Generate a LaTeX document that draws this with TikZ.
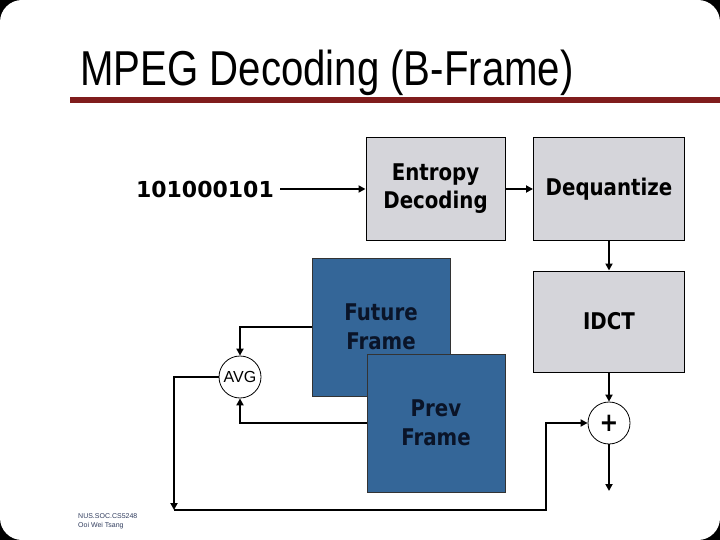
\documentclass[tikz,border=0pt]{standalone}
\usepackage{fontspec}
\setmainfont{Liberation Sans}
\newfontfamily\labfont[FakeStretch=0.86]{DejaVu Sans}
\newfontfamily\digfont{DejaVu Sans}
\newfontfamily\titlefont[FakeStretch=0.82]{Liberation Sans}
\usetikzlibrary{arrows.meta}
\definecolor{boxgray}{RGB}{213,213,218}
\definecolor{frameblue}{RGB}{52,102,152}
\definecolor{navytext}{RGB}{10,20,40}
\definecolor{rulered}{RGB}{128,28,28}
\definecolor{footblue}{RGB}{50,62,95}
\tikzset{
  procbox/.style={draw=black, line width=1pt, fill=boxgray, inner sep=0pt, align=center,
    font=\labfont\bfseries\fontsize{23}{28}\selectfont},
  framebox/.style={draw=black!80, line width=1pt, fill=frameblue, inner sep=0pt, align=center,
    text=navytext, font=\labfont\bfseries\fontsize{23}{29}\selectfont,
    minimum width=138pt, minimum height=138pt},
  opcirc/.style={circle, draw=black, line width=0.8pt, fill=white, inner sep=0pt, minimum size=42pt},
  conn/.style={line width=2pt, -{Triangle[length=7pt,width=7pt]}},
  plainline/.style={line width=2pt}
}
\begin{document}
\begin{tikzpicture}[x=1pt,y=-1pt]
\useasboundingbox (0,0) rectangle (720,540);
\fill[black] (0,0) rectangle (720,540);
\fill[white, rounded corners=22pt] (0,0) rectangle (720,540);
% title
\node[anchor=base west, inner sep=0pt, font=\titlefont\fontsize{49}{55}\selectfont] (title) at (80,86) {MPEG Decoding (B-Frame)};
\fill[rulered] (70,97) rectangle (720,103);
% input bits
\node[anchor=east, inner sep=0pt, font=\digfont\bfseries\fontsize{22}{26}\selectfont] (bits) at (274,189) {101000101};
% process boxes
\node[procbox, minimum width=139pt, minimum height=102pt] (ent) at (435.5,189) {Entropy\\Decoding};
\node[procbox, minimum width=151pt, minimum height=102pt] (deq) at (609,189) {Dequantize};
\node[procbox, minimum width=151pt, minimum height=101pt] (idct) at (609,321.5) {IDCT};
% frames
\node[framebox] (fut) at (381,327) {Future\\Frame};
\node[framebox] (prev) at (436,423) {Prev\\Frame};
% circles
\node[opcirc, font=\fontsize{16}{18}\selectfont] (avg) at (240,377) {AVG};
\node[opcirc, font=\labfont\bfseries\fontsize{26}{28}\selectfont] (plus) at (609,423) {+};
% coordinates
\coordinate (bl) at (174,510);
\coordinate (br) at (546,510);
\coordinate (out) at (609,491);
% connectors
\draw[conn] ([xshift=6pt]bits.east) -- (ent.west);
\draw[conn] (ent.east) -- (deq.west);
\draw[conn] (deq.south) -- (idct.north);
\draw[conn] (idct.south) -- (plus.north);
\draw[conn] (plus.south) -- (out);
\draw[conn] (fut.west) -| (avg.north);
\draw[conn] (prev.west) -| (avg.south);
\draw[conn] (avg.west) -| (bl);
\draw[conn] (bl) -- (br) |- (plus.west);
% footer
\node[anchor=north west, inner sep=0pt, align=left, text=footblue, font=\fontsize{7}{9}\selectfont] (foot) at (78,513) {NUS.SOC.CS5248\\Ooi Wei Tsang};
\end{tikzpicture}
\end{document}
